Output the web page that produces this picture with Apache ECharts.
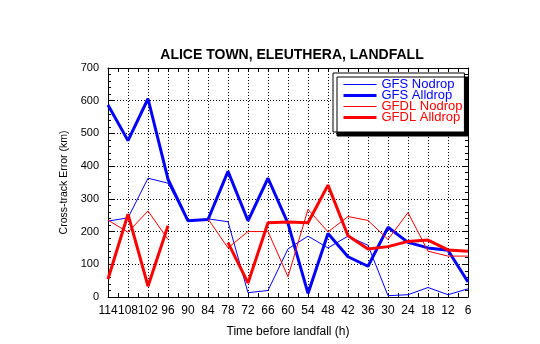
<!DOCTYPE html>
<html>
<head>
<meta charset="utf-8">
<script src="https://cdn.jsdelivr.net/npm/echarts@6/dist/echarts.min.js"></script>
<style>
html,body{margin:0;padding:0;background:#fff;}
#chart{width:540px;height:344px;}
</style>
</head>
<body>
<div id="chart"></div>
<script>
var hours = [114, 108, 102, 96, 90, 84, 78, 72, 66, 60, 54, 48, 42, 36, 30, 24, 18, 12, 6];
var gfsNodrop   = [232, 242, 363, 348, 232, 239, 230, 13, 20, 147, 186, 150, 186, 158, 4, 7, 29, 7, 25];
var gfsAlldrop  = [587, 478, 606, 360, 233, 237, 384, 233, 363, 225, 11, 194, 123, 94, 213, 167, 150, 143, 46];
var gfdlNodrop  = [235, 198, 263, 176, null, 239, 150, 200, 200, 62, 268, 199, 246, 234, 176, 258, 140, 125, 125];
var gfdlAlldrop = [55, 253, 33, 218, null, null, 166, 43, 227, 229, 227, 342, 187, 147, 154, 170, 174, 144, 140];
var seriesNames = ['GFS Nodrop', 'GFS Alldrop', 'GFDL Nodrop', 'GFDL Alldrop'];
var titleText = 'ALICE TOWN, ELEUTHERA, LANDFALL';
var xName = 'Time before landfall (h)';
var yName = 'Cross-track Error (km)';

var FONT = 'Liberation Sans, Arial, Helvetica, sans-serif';
var BLUE = '#0000ff', RED = '#ff0000';

function pairs(vals) {
  return hours.map(function (h, i) { return [h, vals[i]]; });
}

var chart = echarts.init(document.getElementById('chart'), null, {renderer: 'canvas'});

function xAx(pos, labels) {
  return {
    type: 'value', position: pos, min: 6, max: 114, interval: 6, inverse: true,
    axisLine: {show: true, onZero: false, lineStyle: {color: '#000', width: 1}},
    axisTick: {show: true, inside: true, length: 4, lineStyle: {color: '#000'}},
    minorTick: {show: true, splitNumber: 2, length: 4, lineStyle: {color: '#000'}},
    axisLabel: {show: labels, color: '#000', fontSize: 12, fontFamily: FONT, margin: 8},
    splitLine: {show: labels, lineStyle: {color: '#000', type: [1, 2], width: 1}},
    name: labels ? xName : '', nameLocation: 'middle', nameGap: 29,
    nameTextStyle: {color: '#000', fontSize: 12, fontFamily: FONT}
  };
}
function yAx(pos, labels) {
  return {
    type: 'value', position: pos, min: 0, max: 700, interval: 100,
    axisLine: {show: true, onZero: false, lineStyle: {color: '#000', width: 1}},
    axisTick: {show: true, inside: true, length: 6, lineStyle: {color: '#000'}},
    minorTick: {show: true, splitNumber: 5, length: 3, lineStyle: {color: '#000'}},
    axisLabel: {show: labels, color: '#000', fontSize: 11, fontFamily: FONT, margin: 9},
    splitLine: {show: labels, lineStyle: {color: '#000', type: [1, 2], width: 1}},
    name: labels ? yName : '', nameLocation: 'middle', nameGap: 33, nameRotate: 90,
    nameTextStyle: {color: '#000', fontSize: 10.5, fontFamily: FONT}
  };
}

var colors = [BLUE, BLUE, RED, RED];
var widths = [1, 3, 1, 3];
var datasets = [gfsNodrop, gfsAlldrop, gfdlNodrop, gfdlAlldrop];

var option = {
  animation: false,
  backgroundColor: '#fff',
  title: {
    text: titleText, left: 287, top: 43, textAlign: 'center',
    textStyle: {fontSize: 14, fontWeight: 'bold', color: '#000', fontFamily: FONT}
  },
  grid: {left: 108, right: 72, top: 68, bottom: 47, containLabel: false},
  legend: {
    orient: 'vertical', left: 333, top: 73,
    itemWidth: 33, itemHeight: 10, itemGap: -2,
    padding: [5, 2, 8, 9],
    backgroundColor: '#fff', borderColor: '#000', borderWidth: 1,
    shadowColor: '#000', shadowBlur: 0, shadowOffsetX: 4, shadowOffsetY: 4,
    textStyle: {fontSize: 13, fontFamily: FONT},
    itemStyle: {opacity: 0},
    data: seriesNames.map(function (n, i) {
      return {
        name: n,
        textStyle: {color: colors[i]},
        itemStyle: {opacity: 0},
        lineStyle: {color: colors[i], width: widths[i], opacity: 1}
      };
    })
  },
  xAxis: [xAx('bottom', true), xAx('top', false)],
  yAxis: [yAx('left', true), yAx('right', false)],
  series: seriesNames.map(function (n, i) {
    return {
      name: n, type: 'line', data: pairs(datasets[i]),
      symbol: 'none', showSymbol: false, connectNulls: false,
      color: colors[i],
      lineStyle: {color: colors[i], width: widths[i]},
      clip: false
    };
  })
};
chart.setOption(option);
</script>
</body>
</html>
